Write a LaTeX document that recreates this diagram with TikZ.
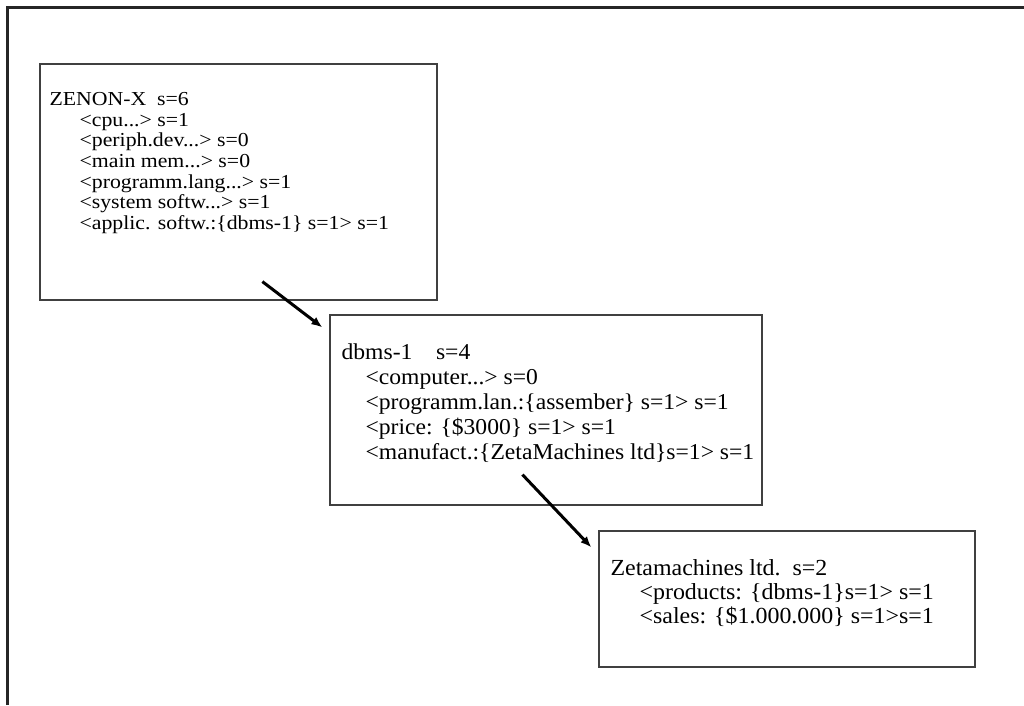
\documentclass[tikz,border=0pt]{standalone}
\usepackage{fontspec}
\usepackage{tikz}
\usetikzlibrary{arrows.meta}
\newfontfamily\scanfont{Liberation Serif}[FakeStretch=1.1]
\newfontfamily\scanwide{Liberation Serif}[FakeStretch=1.04]

\begin{document}
\begin{tikzpicture}[x=1pt,y=1pt,
  frame/.style={line width=3pt,black!85},
  box/.style={draw,line width=1.2pt,black!75,minimum width=#1,inner sep=0pt},
  entry/.style={anchor=north west,inner sep=0pt,align=left},
  link/.style={line width=3pt,-{Latex[length=11pt,width=9pt]}}]
\useasboundingbox (0,0) rectangle (1024,705);
% draw the outer frame (top and left edge only)
\draw[frame] (7,0) -- (7,697) -- (1024,697);

% draw the three boxes
\node[box=397pt,minimum height=236pt] (zenon) at (238.5,523) {};
\node[box=432pt,minimum height=190pt] (dbms) at (546,295) {};
\node[box=376pt,minimum height=136pt] (zeta) at (787,106) {};

% texts inside the boxes
\node[entry,font=\scanfont\fontsize{19.8}{20.6}\selectfont] (zenontext)
  at ([shift={(10,-29)}]zenon.north west)
  {ZENON-X\ \ s=6\\
   \hspace*{30pt}<cpu...> s=1\\
   \hspace*{30pt}<periph.dev...> s=0\\
   \hspace*{30pt}<main mem...> s=0\\
   \hspace*{30pt}<programm.lang...> s=1\\
   \hspace*{30pt}<system softw...> s=1\\
   \hspace*{30pt}<applic. softw.:\{dbms-1\} s=1> s=1};
\node[entry,font=\scanwide\fontsize{22.7}{25}\selectfont] (dbmstext)
  at ([shift={(12,-29)}]dbms.north west)
  {dbms-1\ \ \ \ s=4\\
   \hspace*{24pt}<computer...> s=0\\
   \hspace*{24pt}<programm.lan.:\{assember\} s=1> s=1\\
   \hspace*{24pt}<price: \{\$3000\} s=1> s=1\\
   \hspace*{24pt}<manufact.:\{ZetaMachines ltd\}s=1> s=1};
\node[entry,font=\scanwide\fontsize{23}{23.8}\selectfont] (zetatext)
  at ([shift={(12,-29)}]zeta.north west)
  {Zetamachines ltd.\ \ s=2\\
   \hspace*{29pt}<products: \{dbms-1\}s=1> s=1\\
   \hspace*{29pt}<sales: \{\$1.000.000\} s=1>s=1};

% arrows between the boxes
\coordinate (zenonout) at ([shift={(223,19)}]zenon.south west);
\coordinate (dbmsin) at ([shift={(-7,-13)}]dbms.north west);
\coordinate (dbmsout) at ([shift={(193,31)}]dbms.south west);
\coordinate (zetain) at ([shift={(-7,-17)}]zeta.north west);
\draw[link] (zenonout) -- (dbmsin);
\draw[link] (dbmsout) -- (zetain);
\end{tikzpicture}
\end{document}
